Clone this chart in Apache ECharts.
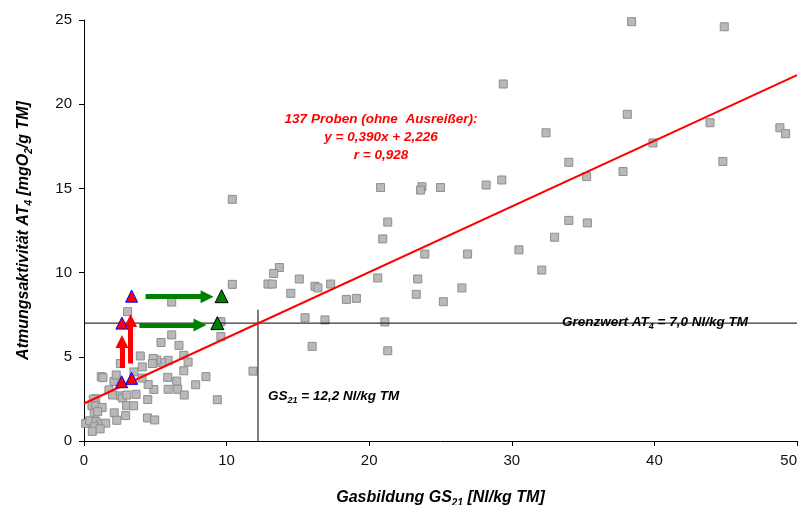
<!DOCTYPE html>
<html><head><meta charset="utf-8">
<script src="https://cdn.jsdelivr.net/npm/echarts@6/dist/echarts.min.js"></script>
<style>html,body{margin:0;padding:0;background:#fff}#c{width:800px;height:505px}</style>
</head><body><div id="c"></div>
<script>
// gray squares: samples [GS21, AT4]
const samples = [
 [38.4,24.9],[43.4,25.05],[44.9,24.6],[29.4,21.2],[38.1,19.4],[32.4,18.3],[43.9,18.9],[48.8,18.6],[49.2,18.25],
 [39.9,17.7],[34.0,16.55],[44.8,16.6],[35.25,15.7],[37.8,16.0],[29.3,15.5],[20.8,15.05],[23.7,15.1],[23.6,14.9],
 [25.0,15.05],[28.2,15.2],[21.3,13.0],[20.95,12.0],[23.9,11.1],[26.9,11.1],[30.5,11.35],[13.7,10.3],[13.3,9.95],
 [12.9,9.32],[13.2,9.32],[15.1,9.62],[16.2,9.19],[16.4,9.09],[17.3,9.32],[14.5,8.77],[18.4,8.41],[19.1,8.47],
 [20.6,9.68],[23.4,9.62],[23.3,8.71],[25.2,8.27],[26.5,9.09],[15.5,7.32],[16.9,7.19],[21.1,7.07],[16.0,5.62],
 [21.3,5.36],[32.1,10.15],[33.0,12.1],[34.0,13.1],[35.3,12.95],[10.4,9.3],[10.4,14.35],[11.85,4.15],[9.6,7.09],
 [9.6,6.2],[9.35,2.45],[6.15,8.25],[6.15,6.3],[5.4,5.85],[6.66,5.68],[7.0,5.09],[7.3,4.69],[5.9,4.79],[5.45,4.65],
 [5.1,4.81],[7.0,4.17],[5.87,3.78],[6.5,3.56],[8.55,3.82],[7.83,3.34],[5.9,3.07],[6.57,3.07],[7.03,2.73],[4.9,3.06],
 [3.06,7.68],[3.95,5.05],[4.85,4.9],[2.55,4.6],[3.5,4.1],[4.09,4.4],[4.8,4.6],[1.21,3.82],[1.33,3.76],[2.1,3.54],
 [2.26,3.92],[4.5,3.36],[4.07,3.74],[1.75,3.03],[2.0,2.73],[2.55,2.68],[2.7,2.55],[3.0,2.73],[3.65,2.77],[4.47,2.46],
 [0.82,2.51],[0.65,2.48],[0.56,2.1],[0.82,2.08],[1.27,1.99],[2.12,1.67],[2.3,1.23],[2.92,1.51],[2.99,2.1],[3.48,2.09],
 [4.45,1.37],[4.96,1.25],[0.72,1.64],[0.96,1.74],[0.12,1.05],[0.4,1.2],[0.85,1.14],[1.14,0.99],[1.52,1.06],[0.75,0.85],
 [0.58,0.57],[1.13,0.72]
];
const redTriangles = [[3.34,8.6],[2.66,7.0],[2.64,3.52],[3.34,3.72]];
const greenTriangles = [[9.65,8.6],[9.35,7.0]];
const regressionLine = [[0,2.226],[50,21.726]];
const limitLine = [[0,7.0],[50,7.0]];
const gsLine = [[12.2,0],[12.2,7.8]];
const greenArrows = [[[4.32,8.57],[8.63,8.57]],[[3.88,6.89],[8.13,6.89]]];
const redArrows = [[[3.27,4.6],[3.27,7.16]],[[2.66,4.33],[2.66,5.91]]];
const xRange = [0,50,10];
const yRange = [0,25,5];

const FF = '"Liberation Sans", Arial, sans-serif';
const chart = echarts.init(document.getElementById('c'), null, {renderer:'canvas'});
const nameRich = {
  b:{fontFamily:FF,fontSize:16,fontWeight:'bold',fontStyle:'italic',color:'#000',lineHeight:20},
  s:{fontFamily:FF,fontSize:10,fontWeight:'bold',fontStyle:'italic',color:'#000',lineHeight:10,verticalAlign:'bottom'}
};
const txtRich = {
  b:{fontFamily:FF,fontSize:13.5,fontWeight:'bold',fontStyle:'italic',fill:'#000',lineHeight:18},
  s:{fontFamily:FF,fontSize:9,fontWeight:'bold',fontStyle:'italic',fill:'#000',lineHeight:9,verticalAlign:'bottom'}
};
const arrowSeries = (arr, color) => ({
  type:'lines', coordinateSystem:'cartesian2d', silent:true, z:5,
  symbol:['none','triangle'], symbolSize:[15,13],
  lineStyle:{color:color, width:5, opacity:1},
  itemStyle:{color:color},
  data: arr.map(c => ({coords:c}))
});
chart.setOption({
  animation:false,
  backgroundColor:'#fff',
  grid:{left:84,right:3,top:20,bottom:64,containLabel:false,outerBoundsMode:'none'},
  xAxis:{type:'value',min:xRange[0],max:xRange[1],interval:xRange[2],
    axisLine:{show:true,lineStyle:{color:'#000',width:1}},
    axisTick:{show:true,inside:false,length:5,lineStyle:{color:'#000'}},
    splitLine:{show:false},
    axisLabel:{fontFamily:FF,fontSize:15,color:'#111',margin:12,alignMaxLabel:'right'},
    name:'{b|Gasbildung GS}{s|21}{b| [Nl/kg TM]}',nameLocation:'middle',nameGap:47,
    nameTextStyle:{rich:nameRich}
  },
  yAxis:{type:'value',min:yRange[0],max:yRange[1],interval:yRange[2],
    axisLine:{show:true,lineStyle:{color:'#000',width:1}},
    axisTick:{show:true,inside:false,length:5,lineStyle:{color:'#000'}},
    splitLine:{show:false},
    axisLabel:{fontFamily:FF,fontSize:15,color:'#111',margin:12},
    name:'{b|Atmungsaktivität AT}{s|4}{b| [mgO}{s|2}{b|/g TM]}',nameLocation:'middle',nameGap:50,
    nameTextStyle:{rich:nameRich}
  },
  series:[
    {type:'scatter',data:samples,symbol:'rect',symbolSize:8,z:2,silent:true,
     itemStyle:{color:'#b9b9b9',borderColor:'#8e8e8e',borderWidth:1,opacity:1}},
    {type:'line',data:limitLine,symbol:'none',z:3,silent:true,lineStyle:{color:'#000',width:1}},
    {type:'line',data:gsLine,symbol:'none',z:3,silent:true,lineStyle:{color:'#000',width:1}},
    {type:'line',data:regressionLine,symbol:'none',z:3,silent:true,lineStyle:{color:'#ff0000',width:2}},
    arrowSeries(greenArrows,'#008000'),
    arrowSeries(redArrows,'#ff0000'),
    {type:'scatter',data:redTriangles,symbol:'triangle',symbolSize:12,z:6,silent:true,
     itemStyle:{color:'#ff0000',borderColor:'#0000ff',borderWidth:1,opacity:1}},
    {type:'scatter',data:greenTriangles,symbol:'triangle',symbolSize:13,z:6,silent:true,
     itemStyle:{color:'#008000',borderColor:'#000',borderWidth:1,opacity:1}}
  ],
  graphic:[
    {type:'text',x:381,y:110,z:10,style:{text:'137 Proben (ohne  Ausreißer):\ny = 0,390x + 2,226\nr = 0,928',
      align:'center',verticalAlign:'top',lineHeight:18,fill:'#ff0000',
      font:'italic bold 13.5px '+FF}},
    {type:'text',x:562,y:322,z:10,style:{text:'{b|Grenzwert AT}{s|4}{b| = 7,0 Nl/kg TM}',
      rich:txtRich,verticalAlign:'middle',align:'left'}},
    {type:'text',x:268,y:396,z:10,style:{text:'{b|GS}{s|21}{b| = 12,2 Nl/kg TM}',
      rich:txtRich,verticalAlign:'middle',align:'left'}}
  ]
});
</script></body></html>
